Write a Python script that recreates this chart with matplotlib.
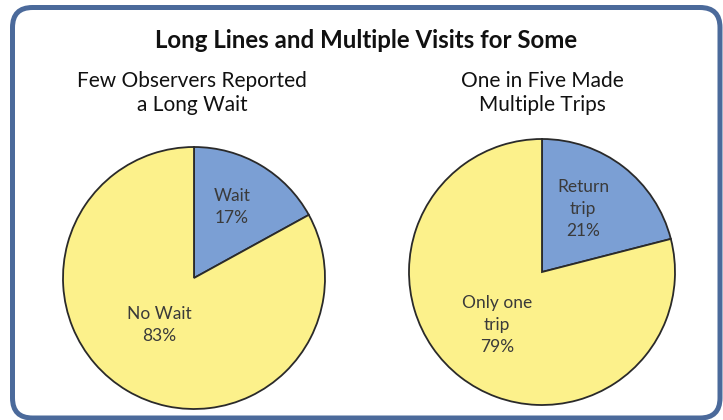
import matplotlib
matplotlib.use("Agg")
import matplotlib.pyplot as plt
from matplotlib.patches import FancyBboxPatch

title = "Long Lines and Multiple Visits for Some"
subtitles = ["Few Observers Reported\na Long Wait", "One in Five Made\nMultiple Trips"]
left_labels = ["Wait", "No Wait"]
left_values = [17, 83]
right_labels = ["Return\ntrip", "Only one\ntrip"]
right_values = [21, 79]

colors = ["#7b9fd4", "#fcf18b"]
FONT = "Lato"
W, H = 723, 420

fig = plt.figure(figsize=(W / 100, H / 100), dpi=100)
fig.patch.set_facecolor("white")

ax = fig.add_axes([0, 0, 1, 1])
ax.set_facecolor("none")

pies = [
    dict(values=left_values, labels=left_labels, center=(194, H - 278), r=131,
         pos=[(232, 207), (159, 325)], sub=(192, 93)),
    dict(values=right_values, labels=right_labels, center=(542, H - 272), r=133,
         pos=[(583, 209), (497, 325)], sub=(542, 93)),
]

for i, p in enumerate(pies):
    ax.pie(p["values"], colors=colors, startangle=90, counterclock=False,
           center=p["center"], radius=p["r"],
           wedgeprops=dict(edgecolor="#2a2a2a", linewidth=1.3))
    for lab, v, (x, y) in zip(p["labels"], p["values"], p["pos"]):
        ax.text(x, H - y, f"{lab}\n{v}%", ha="center", va="center",
                fontsize=12.5, color="#3a3a3a", family=FONT, linespacing=1.45)
    ax.text(p["sub"][0], H - p["sub"][1], subtitles[i], ha="center", va="center",
            fontsize=15, color="#111111", family=FONT, linespacing=1.3)

ax.text(W / 2 + 5, H - 40, title, ha="center", va="center", fontsize=17.3,
        fontweight="bold", color="#111111", family=FONT)

ax.set_xlim(0, W)
ax.set_ylim(0, H)
ax.set_aspect("auto")
ax.axis("off")

# rounded border (pixel coordinates)
border = FancyBboxPatch((12.5, 2), 707.5, 410.5,
                        boxstyle="round,pad=0,rounding_size=20",
                        facecolor="none", edgecolor="#4b6a9b", linewidth=3.6,
                        zorder=5, clip_on=False)
ax.add_patch(border)

fig.savefig("out.png", dpi=100, facecolor="white")
